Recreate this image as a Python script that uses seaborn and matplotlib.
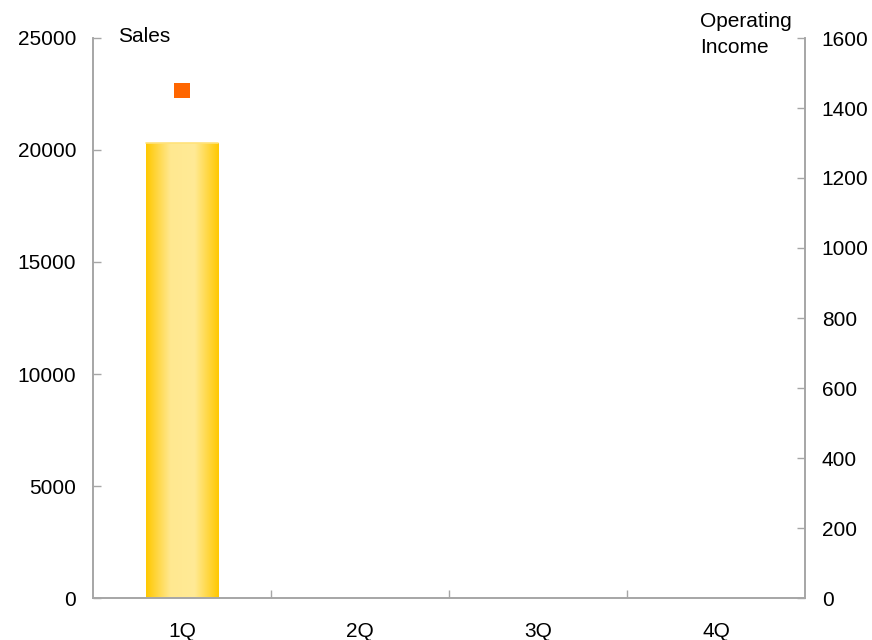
import numpy as np
import pandas as pd
import matplotlib
matplotlib.use("Agg")
import matplotlib.pyplot as plt
from matplotlib.colors import LinearSegmentedColormap
import seaborn as sns

quarters = ["1Q", "2Q", "3Q", "4Q"]
sales = [20300, np.nan, np.nan, np.nan]
operating_income = [1450, np.nan, np.nan, np.nan]

sns.set_style("white")
plt.rcParams["font.family"] = ["Liberation Sans", "DejaVu Sans"]
plt.rcParams["text.color"] = "black"
plt.rcParams["xtick.labelcolor"] = "black"
plt.rcParams["ytick.labelcolor"] = "black"

df = pd.DataFrame({"quarter": quarters, "sales": sales, "oi": operating_income})

fig = plt.figure(figsize=(8.72, 6.4), dpi=100)
ax = fig.add_axes([93/872, 42/640, (805-93)/872, (598-38)/640])

sns.barplot(data=df, x="quarter", y="sales", ax=ax, width=0.41,
            color="#FFD23C", edgecolor="none", saturation=1)

# horizontal gradient fill inside each bar
cmap = LinearSegmentedColormap.from_list("gold", ["#FFC800", "#FFE890", "#FFEA96", "#FFC800"])
grad = np.linspace(0, 1, 256).reshape(1, -1)
for p in ax.patches:
    h = p.get_height()
    if h is None or np.isnan(h) or h == 0:
        continue
    x0, w = p.get_x(), p.get_width()
    ax.imshow(grad, extent=[x0, x0 + w, 0, h], aspect="auto", cmap=cmap,
              zorder=p.get_zorder() + 0.1, interpolation="bicubic")
    ax.plot([x0, x0 + w], [h, h], color="#FFE27A", lw=1.2, zorder=3)

ax.set_xlim(-0.5, 3.5)
ax.set_ylim(0, 25000)
ax.set_yticks([0, 5000, 10000, 15000, 20000, 25000])
ax.set_xlabel("")
ax.set_ylabel("")

ax2 = ax.twinx()
sns.scatterplot(data=df, x="quarter", y="oi", ax=ax2, marker="s", s=130,
                color="#FF6600", edgecolor="none", zorder=5)
ax2.set_ylim(0, 1600)
ax2.set_yticks([0, 200, 400, 600, 800, 1000, 1200, 1400, 1600])
ax2.set_ylabel("")
ax2.set_xlim(-0.5, 3.5)

spine_c = "#A6A6A6"
for a in (ax, ax2):
    a.spines["top"].set_visible(False)
    for s in ("left", "right", "bottom"):
        a.spines[s].set_color(spine_c)
        a.spines[s].set_linewidth(1.2)

fs = 15
ax.tick_params(axis="y", direction="in", length=6, width=1, color=spine_c,
               labelsize=fs, pad=12, labelcolor="black", left=True)
ax2.tick_params(axis="y", direction="in", length=6, width=1, color=spine_c,
                labelsize=fs, pad=12, labelcolor="black", right=True)
ax.tick_params(axis="x", which="major", length=0, labelsize=fs, pad=17.5,
               labelcolor="black")
ax.set_xticks([0.5, 1.5, 2.5], minor=True)
ax.tick_params(axis="x", which="minor", direction="in", length=6, width=1,
               color=spine_c, bottom=True)
ax2.tick_params(axis="x", length=0)

fig.text(118/872, 1 - 42/640, "Sales", fontsize=fs, va="baseline", ha="left", color="black")
fig.text(700/872, 1 - 27/640, "Operating", fontsize=fs, va="baseline", ha="left", color="black")
fig.text(700/872, 1 - 53/640, "Income", fontsize=fs, va="baseline", ha="left", color="black")

fig.savefig("out.png", dpi=100)
